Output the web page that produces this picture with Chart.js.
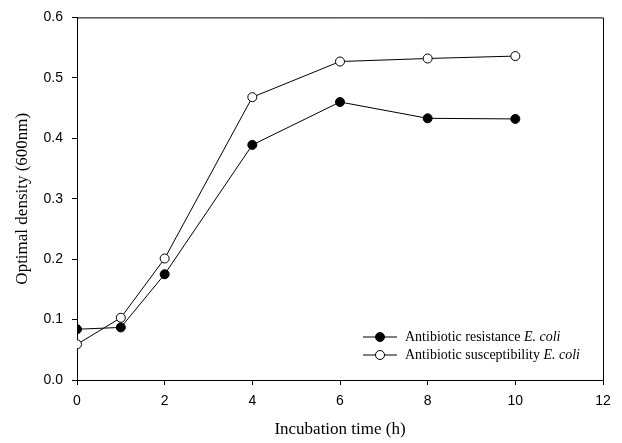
<!DOCTYPE html>
<html>
<head>
<meta charset="utf-8">
<script src="https://cdn.jsdelivr.net/npm/chart.js@4"></script>
<style>
  html, body { margin: 0; padding: 0; background: #fff; }
  #wrap { width: 622px; height: 443px; }
</style>
</head>
<body>
<div id="wrap"><canvas id="chart" width="622" height="443"></canvas></div>
<script>
// Data
var hours = [0, 1, 2, 4, 6, 8, 10];
var resistance = [0.084, 0.087, 0.175, 0.389, 0.460, 0.433, 0.432];
var susceptibility = [0.059, 0.103, 0.201, 0.468, 0.527, 0.532, 0.536];
var seriesNames = ["Antibiotic resistance", "Antibiotic susceptibility"];
var species = "E. coli";

function toPoints(values) {
  return hours.map(function (h, i) {
    return { x: h, y: values[i] };
  });
}

// frame on top and right of the plot
var boxPlugin = {
  id: "box",
  afterDraw: function (chart) {
    var a = chart.chartArea;
    var ctx = chart.ctx;
    ctx.save();
    ctx.strokeStyle = "#000";
    ctx.lineWidth = 1;
    ctx.beginPath();
    ctx.moveTo(a.left, a.top + 0.5);
    ctx.lineTo(a.right + 0.5, a.top + 0.5);
    ctx.lineTo(a.right + 0.5, a.bottom);
    ctx.stroke();
    ctx.restore();
  }
};

// legend inside the plot, with italic species name
var insideLegend = {
  id: "insideLegend",
  afterDraw: function (chart) {
    var ctx = chart.ctx;
    var x0 = 363, x1 = 397, xm = 380, xt = 405;
    var rows = [337, 355];
    ctx.save();
    chart.data.datasets.forEach(function (ds, i) {
      var y = rows[i];
      ctx.strokeStyle = "#000";
      ctx.lineWidth = 1;
      ctx.beginPath();
      ctx.moveTo(x0, y);
      ctx.lineTo(x1, y);
      ctx.stroke();
      ctx.beginPath();
      ctx.arc(xm, y, 4.5, 0, Math.PI * 2);
      ctx.fillStyle = ds.pointBackgroundColor;
      ctx.fill();
      ctx.stroke();
      ctx.fillStyle = "#000";
      ctx.textBaseline = "middle";
      ctx.font = "14px 'Liberation Serif', 'Times New Roman', serif";
      var txt = seriesNames[i] + " ";
      ctx.fillText(txt, xt, y);
      var w = ctx.measureText(txt).width;
      ctx.font = "italic 14px 'Liberation Serif', 'Times New Roman', serif";
      ctx.fillText(species, xt + w, y);
    });
    ctx.restore();
  }
};

var tickFont = { family: "'Liberation Sans', Arial, sans-serif", size: 14 };
var titleFont = { family: "'Liberation Serif', 'Times New Roman', serif", size: 17 };

new Chart(document.getElementById("chart"), {
  type: "line",
  data: {
    datasets: [
      {
        label: seriesNames[0] + " " + species,
        data: toPoints(resistance),
        borderColor: "#000",
        borderWidth: 1,
        pointRadius: 4.5,
        pointBackgroundColor: "#000",
        pointBorderColor: "#000",
        pointBorderWidth: 1,
        tension: 0
      },
      {
        label: seriesNames[1] + " " + species,
        data: toPoints(susceptibility),
        borderColor: "#000",
        borderWidth: 1,
        pointRadius: 4.5,
        pointBackgroundColor: "#fff",
        pointBorderColor: "#000",
        pointBorderWidth: 1,
        tension: 0
      }
    ]
  },
  options: {
    responsive: false,
    animation: false,
    layout: { padding: { left: 0, top: 16, right: 19, bottom: 0 } },
    plugins: {
      legend: { display: false },
      tooltip: { enabled: false }
    },
    scales: {
      x: {
        type: "linear",
        min: 0,
        max: 12,
        afterFit: function (scale) { scale.height = 63; },
        ticks: { stepSize: 2, color: "#000", font: tickFont, padding: 8, maxRotation: 0 },
        grid: { drawOnChartArea: false, drawTicks: true, tickLength: 5, color: "#000" },
        border: { display: true, color: "#000", width: 1 },
        title: { display: true, text: "Incubation time (h)", color: "#000", font: titleFont, padding: { top: 0, bottom: 3 } }
      },
      y: {
        min: 0,
        max: 0.6,
        afterFit: function (scale) { scale.width = 77; },
        ticks: {
          stepSize: 0.1,
          color: "#000",
          font: tickFont,
          padding: 9,
          callback: function (v) { return Number(v).toFixed(1); }
        },
        grid: { drawOnChartArea: false, drawTicks: true, tickLength: 5, color: "#000" },
        border: { display: true, color: "#000", width: 1 },
        title: { display: true, text: "Optimal density (600nm)", color: "#000", font: titleFont, padding: { top: 12, bottom: 0 } }
      }
    }
  },
  plugins: [boxPlugin, insideLegend]
});
</script>
</body>
</html>
